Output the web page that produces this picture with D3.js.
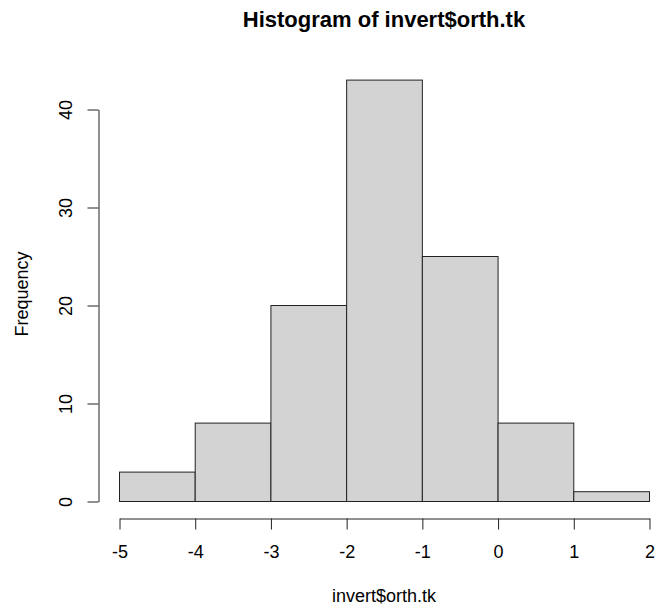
<!DOCTYPE html>
<html>
<head>
<meta charset="utf-8">
<script src="https://d3js.org/d3.v7.min.js"></script>
<style>
  body { margin: 0; background: #fff; }
  text { font-family: "Liberation Sans", Arial, sans-serif; fill: #000; }
</style>
</head>
<body>
<div id="chart-area"></div>
<script>
// histogram bins (breaks) and counts
var breaks = [-5, -4, -3, -2, -1, 0, 1, 2];
var counts = [3, 8, 20, 43, 25, 8, 1];
var xTicks = [-5, -4, -3, -2, -1, 0, 1, 2];
var yTicks = [0, 10, 20, 30, 40];

var width = 662, height = 606;

var svg = d3.select("#chart-area")
    .append("svg")
    .attr("width", width)
    .attr("height", height);

// scales
var x = d3.scaleLinear().domain([-5, 2]).range([119.5, 649.5]);
var y = d3.scaleLinear().domain([0, 40]).range([501.5, 109.5]);

var bins = counts.map(function(c, i) {
    return { x0: breaks[i], x1: breaks[i + 1], n: c };
});

// bars
svg.selectAll("rect.bar")
    .data(bins)
    .enter()
    .append("rect")
    .attr("class", "bar")
    .attr("x", d => x(d.x0))
    .attr("width", d => x(d.x1) - x(d.x0))
    .attr("y", d => y(d.n))
    .attr("height", d => y(0) - y(d.n))
    .attr("fill", "#d3d3d3")
    .attr("stroke", "#222")
    .attr("stroke-width", 1);

// x axis
var xAxis = svg.append("g")
    .attr("transform", "translate(0,518.5)")
    .call(d3.axisBottom(x).tickValues(xTicks).tickSize(11).tickSizeOuter(0).tickPadding(16)
        .tickFormat(d => d < 0 ? "-" + Math.abs(d) : d));
xAxis.selectAll("text").attr("font-size", "18px").attr("font-family", "Liberation Sans, Arial, sans-serif");
xAxis.selectAll("path, line").attr("stroke", "#222");

// y axis
var yAxis = svg.append("g")
    .attr("transform", "translate(98.5,0)")
    .call(d3.axisLeft(y).tickValues(yTicks).tickSize(11).tickSizeOuter(0));
yAxis.selectAll("path, line").attr("stroke", "#222");
yAxis.selectAll("text")
    .attr("font-size", "18px")
    .attr("font-family", "Liberation Sans, Arial, sans-serif")
    .attr("text-anchor", "middle")
    .attr("x", null)
    .attr("dy", null)
    .attr("transform", "translate(-33,0) rotate(-90)")
    .attr("dominant-baseline", "central");

// title
svg.append("text")
    .attr("x", 384)
    .attr("y", 27)
    .attr("text-anchor", "middle")
    .attr("font-size", "22px")
    .attr("font-weight", "bold")
    .text("Histogram of invert$orth.tk");

// x label
svg.append("text")
    .attr("x", 384)
    .attr("y", 602)
    .attr("text-anchor", "middle")
    .attr("font-size", "18px")
    .text("invert$orth.tk");

// y label
svg.append("text")
    .attr("transform", "translate(28,294) rotate(-90)")
    .attr("text-anchor", "middle")
    .attr("font-size", "18px")
    .text("Frequency");
</script>
</body>
</html>
